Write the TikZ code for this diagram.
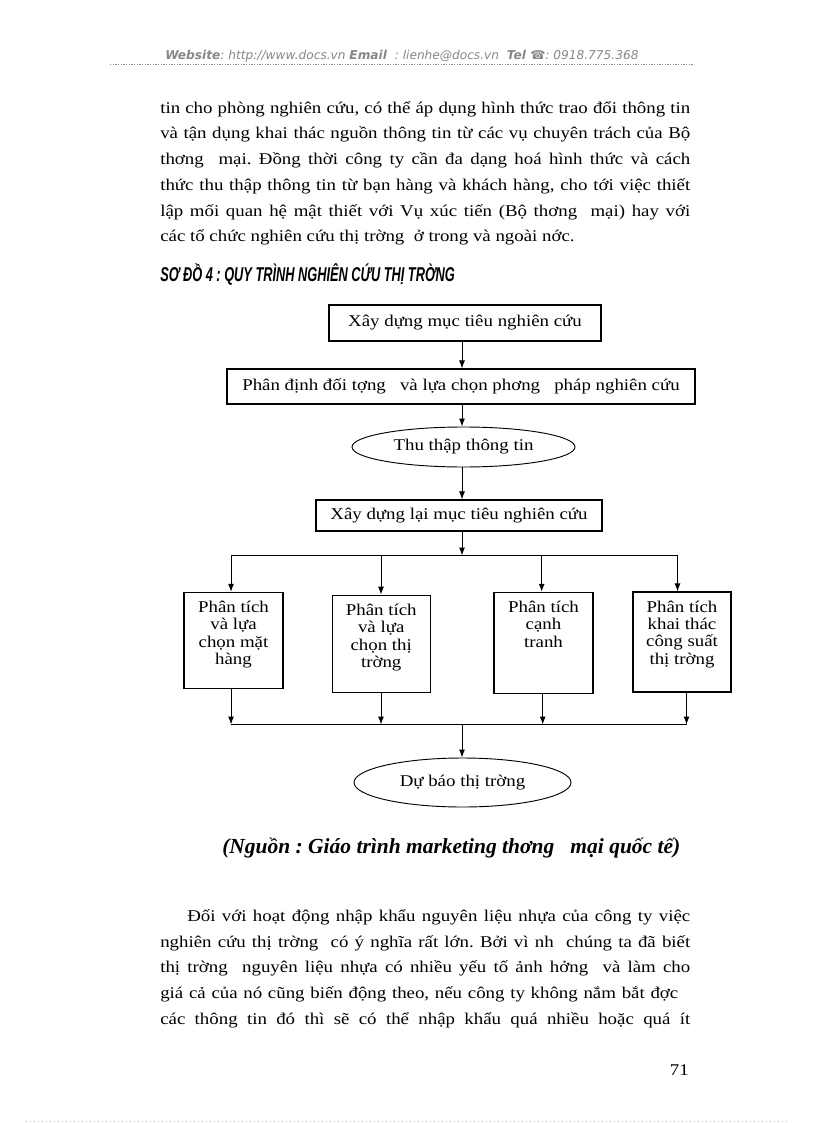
\documentclass[tikz,border=0pt]{standalone}
\usepackage{fontspec}
\usepackage{graphicx}
\setmainfont{Liberation Serif}[FakeStretch=1.15]
\newfontfamily\hdrfont{DejaVu Sans}
\newfontfamily\ttlfont{Liberation Sans}
\newfontfamily\srcfont{Liberation Serif}
\usetikzlibrary{shapes.geometric,arrows.meta}
\definecolor{hdrgray}{RGB}{135,135,135}
\definecolor{dotgray}{RGB}{190,190,190}
\frenchspacing
\begin{document}
\begin{tikzpicture}[x=0.75pt,y=-0.75pt,
  arr/.style={-{Latex[length=6pt,width=4.5pt]}, line width=0.75pt},
  ln/.style={line width=0.75pt},
  rbox/.style={draw, line width=0.8pt, inner sep=0pt, rectangle, font=\fontsize{12.3pt}{14pt}\selectfont},
  oval/.style={draw, ellipse, line width=0.7pt, inner sep=0pt, font=\fontsize{12.3pt}{14pt}\selectfont},
  body/.style={anchor=base west, inner sep=0pt, font=\fontsize{12.3pt}{14pt}\selectfont}]
\useasboundingbox[fill=white] (0,0) rectangle (816,1123);

% header
\node[anchor=base west, inner sep=0pt] (hdr) at (165,60) {\resizebox{355pt}{!}{\hdrfont\fontsize{8pt}{9pt}\selectfont\color{hdrgray}\bfseries\itshape Website\mdseries : http://www.docs.vn \bfseries Email\mdseries\ \ : lienhe@docs.vn\ \ \bfseries Tel ☎\mdseries: 0918.775.368}};
\draw[hdrgray, line width=0.6pt, dash pattern=on 1pt off 1pt] (110,64.5) -- (693,64.5);

% top paragraph
\node[body] (p1) at (160,113.3) {\makebox[397.5pt][s]{tin cho phòng nghiên cứu, có thể áp dụng hình thức trao đổi thông tin}};
\node[body] (p2) at (160,139.0) {\makebox[397.5pt][s]{và tận dụng khai thác nguồn thông tin từ các vụ chuyên trách của Bộ}};
\node[body] (p3) at (160,164.7) {\makebox[397.5pt][s]{thơng\ \ mại. Đồng thời công ty cần đa dạng hoá hình thức và cách}};
\node[body] (p4) at (160,190.4) {\makebox[397.5pt][s]{thức thu thập thông tin từ bạn hàng và khách hàng, cho tới việc thiết}};
\node[body] (p5) at (160,216.1) {\makebox[397.5pt][s]{lập mối quan hệ mật thiết với Vụ xúc tiến (Bộ thơng\ \ mại) hay với}};
\node[body] (p6) at (160,241.8) {các tổ chức nghiên cứu thị trờng\ \ ở trong và ngoài nớc.};

% title
\node[anchor=base west, inner sep=0pt] (ttl) at (160,281.5) {\resizebox{221pt}{\height}{\ttlfont\fontsize{15pt}{16pt}\selectfont\bfseries\itshape SƠ ĐỒ 4 : QUY TRÌNH NGHIÊN CỨU THỊ TRỜNG}};

% flowchart
\coordinate (axis) at (462,0);
\node[rbox, minimum width=204pt, minimum height=27pt] (b1) at (465,323) {Xây dựng mục tiêu nghiên cứu};
\node[rbox, minimum width=351pt, minimum height=26.25pt] (b2) at (461,386.5) {Phân định đối tợng\ \ \ và lựa chọn phơng\ \ \ pháp nghiên cứu};
\node[oval, minimum width=167.25pt, minimum height=30pt] (e1) at (463.5,447) {Thu thập thông tin};
\node[rbox, minimum width=214.5pt, minimum height=23.25pt] (b3) at (459,515.5) {Xây dựng lại mục tiêu nghiên cứu};

\node[rbox] (ba) at (233.5,640.3) {\parbox[c][72pt][t]{74.25pt}{\centering\baselineskip=12.9pt\rule{0pt}{15.3pt}Phân tích\\ và lựa\\ chọn mặt\\ hàng}};
\node[rbox] (bb) at (381.2,643.7) {\parbox[c][72.75pt][t]{73.5pt}{\centering\baselineskip=12.9pt\rule{0pt}{15.3pt}Phân tích\\ và lựa\\ chọn thị\\ trờng}};
\node[rbox] (bc) at (543.5,642.8) {\parbox[c][75.75pt][t]{74.25pt}{\centering\baselineskip=12.9pt\rule{0pt}{15.3pt}Phân tích\\ cạnh\\ tranh}};
\node[rbox] (bd) at (682,642) {\parbox[c][75pt][t]{73.5pt}{\centering\baselineskip=12.9pt\rule{0pt}{15.3pt}Phân tích\\ khai thác\\ công suất\\ thị trờng}};

\node[oval, minimum width=162.75pt, minimum height=36.75pt] (e2) at (462.5,782.5) {Dự báo thị trờng};

\draw[arr] (b1.south -| axis) -- (b2.north -| axis);
\draw[arr] (b2.south -| axis) -- (e1.north -| axis);
\draw[arr] (e1.south -| axis) -- (b3.north -| axis);

\coordinate (j1) at (462,555.5);
\coordinate (ta) at (231,555.5);
\coordinate (tb) at (381,555.5);
\coordinate (tc) at (541.7,555.5);
\coordinate (td) at (677.5,555.5);
\draw[arr] (b3.south -| axis) -- (j1);
\draw[ln] (ta) -- (td);
\draw[arr] (ta) -- (ta |- ba.north);
\draw[arr] (tb) -- (tb |- bb.north);
\draw[arr] (tc) -- (tc |- bc.north);
\draw[arr] (td) -- (td |- bd.north);

\coordinate (qa) at (231,724.5);
\coordinate (qb) at (381,724.5);
\coordinate (qc) at (542.7,724.5);
\coordinate (qd) at (686.5,724.5);
\draw[ln] (qa) -- (qd);
\draw[arr] (qa |- ba.south) -- (qa);
\draw[arr] (qb |- bb.south) -- (qb);
\draw[arr] (qc |- bc.south) -- (qc);
\draw[arr] (qd |- bd.south) -- (qd);
\draw[arr] (axis |- qa) -- (e2.north -| axis);

% source
\node[anchor=base west, inner sep=0pt] (src) at (222,853) {\resizebox{343.5pt}{!}{\srcfont\fontsize{13pt}{14pt}\selectfont\bfseries\itshape (Nguồn : Giáo trình marketing thơng\ \ \ mại quốc tế)}};

% bottom paragraph
\node[body] (q1) at (187,921.5) {\makebox[377.25pt][s]{Đối với hoạt động nhập khẩu nguyên liệu nhựa của công ty việc}};
\node[body] (q2) at (160,947.2) {\makebox[397.5pt][s]{nghiên cứu thị trờng\ \ có ý nghĩa rất lớn. Bởi vì nh\ \ chúng ta đã biết}};
\node[body] (q3) at (160,972.9) {\makebox[397.5pt][s]{thị trờng\ \ nguyên liệu nhựa có nhiều yếu tố ảnh hởng\ \ và làm cho}};
\node[body] (q4) at (160,998.6) {\makebox[388.5pt][s]{giá cả của nó cũng biến động theo, nếu công ty không nắm bắt đợc}};
\node[body] (q5) at (160,1024.3) {\makebox[397.5pt][s]{các thông tin đó thì sẽ có thể nhập khẩu quá nhiều hoặc quá ít}};

% page number and footer line
\node[anchor=base east, inner sep=0pt, font=\fontsize{12.3pt}{14pt}\selectfont] (pg) at (689,1075) {71};
\draw[dotgray, line width=0.6pt, dash pattern=on 0.75pt off 2.25pt] (26,1121.5) -- (789,1121.5);
\end{tikzpicture}
\end{document}
